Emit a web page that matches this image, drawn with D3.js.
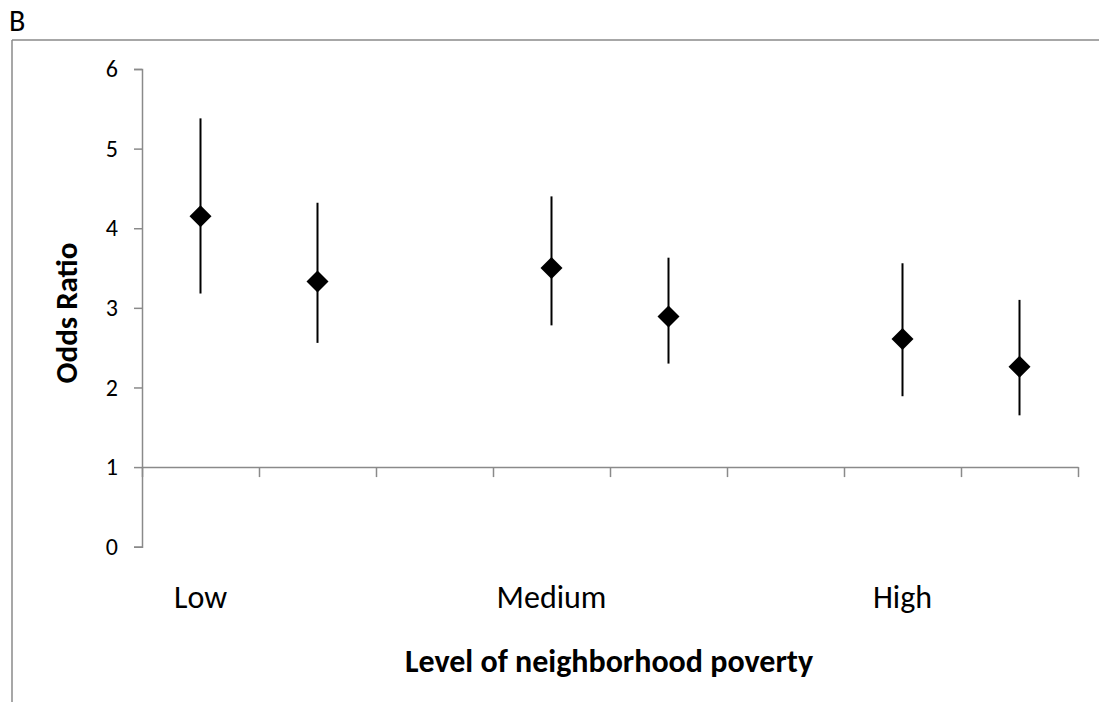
<!DOCTYPE html>
<html>
<head>
<meta charset="utf-8">
<script src="https://cdn.jsdelivr.net/npm/d3@7"></script>
<style>
  html, body { margin: 0; padding: 0; background: #ffffff; }
  svg { display: block; font-family: Carlito, Calibri, Lato, sans-serif; }
</style>
</head>
<body>
<svg id="chart" width="1099" height="702"></svg>
<script>
// Category slots along the x axis (two estimates per poverty level, one empty spacer)
const categories = ["Low", "", "", "Medium", "", "", "High", ""];
// Slot index of each estimate
const pointSlots = [0, 1, 3, 4, 6, 7];
// Odds ratios with 95% confidence bounds
const oddsRatio = [4.15, 3.33, 3.50, 2.89, 2.61, 2.26];
const ciLower   = [3.18, 2.56, 2.78, 2.30, 1.89, 1.65];
const ciUpper   = [5.38, 4.32, 4.40, 3.63, 3.56, 3.10];
const yTicks = [0, 1, 2, 3, 4, 5, 6];

const svg = d3.select("#chart");
const axisColor = "#8a8a8a";

// Panel frame (left and top rules) and panel letter
svg.append("line").attr("x1", 12).attr("x2", 12).attr("y1", 40).attr("y2", 702)
  .attr("stroke", axisColor).attr("stroke-width", 1.5);
svg.append("line").attr("x1", 12).attr("x2", 1099).attr("y1", 40).attr("y2", 40)
  .attr("stroke", axisColor).attr("stroke-width", 1.5);
svg.append("text").attr("x", 9).attr("y", 31).attr("font-size", 30).text("B");

const plotLeft = 142, plotRight = 1078, plotTop = 69, plotBottom = 546.7;

const y = d3.scaleLinear().domain([0, 6]).range([plotBottom, plotTop]);
const x = d3.scaleBand().domain(d3.range(categories.length)).range([plotLeft, plotRight]).padding(0);
const xEdges = d3.scaleLinear().domain([0, categories.length]).range([plotLeft, plotRight]);

// Y axis
const yAxis = svg.append("g")
  .attr("transform", `translate(${plotLeft},0)`)
  .call(d3.axisLeft(y).tickValues(yTicks).tickFormat(d3.format("d"))
    .tickSize(8).tickSizeOuter(8).tickPadding(16));
yAxis.select(".domain").attr("stroke", axisColor).attr("stroke-width", 1.5);
yAxis.selectAll(".tick line").attr("stroke", axisColor).attr("stroke-width", 1.5);
yAxis.selectAll(".tick text").attr("font-size", 24).attr("fill", "#000")
  .attr("font-family", "Carlito, Calibri, Lato, sans-serif");

// X axis crossing at 1, ticks on category boundaries
const xAxis = svg.append("g")
  .attr("transform", `translate(0,${y(1)})`)
  .call(d3.axisBottom(xEdges).tickValues(d3.range(categories.length + 1))
    .tickFormat("").tickSize(10).tickSizeOuter(0));
xAxis.select(".domain").attr("stroke", axisColor).attr("stroke-width", 1.5);
xAxis.selectAll(".tick line").attr("stroke", axisColor).attr("stroke-width", 1.5);

// Category labels below the plot
svg.append("g").selectAll("text")
  .data(categories.map((c, i) => ({ c, i })).filter(d => d.c !== ""))
  .join("text")
  .attr("x", d => x(d.i) + x.bandwidth() / 2)
  .attr("y", 608)
  .attr("text-anchor", "middle")
  .attr("font-size", 32)
  .text(d => d.c);

// Confidence interval whiskers
const pts = pointSlots.map((s, i) => ({ s, or: oddsRatio[i], lo: ciLower[i], hi: ciUpper[i] }));
svg.append("g").selectAll("line")
  .data(pts)
  .join("line")
  .attr("x1", d => x(d.s) + x.bandwidth() / 2)
  .attr("x2", d => x(d.s) + x.bandwidth() / 2)
  .attr("y1", d => y(d.lo))
  .attr("y2", d => y(d.hi))
  .attr("stroke", "#000")
  .attr("stroke-width", 2);

// Diamond markers
const diamond = d3.symbol().type(d3.symbolSquare).size(242);
svg.append("g").selectAll("path")
  .data(pts)
  .join("path")
  .attr("d", diamond)
  .attr("transform", d => `translate(${x(d.s) + x.bandwidth() / 2},${y(d.or)}) rotate(45)`)
  .attr("fill", "#000");

// Axis titles
svg.append("text")
  .attr("transform", `translate(77,313) rotate(-90)`)
  .attr("text-anchor", "middle")
  .attr("font-size", 31)
  .attr("font-weight", "bold")
  .text("Odds Ratio");

svg.append("text")
  .attr("x", 609)
  .attr("y", 672)
  .attr("text-anchor", "middle")
  .attr("font-size", 32)
  .attr("font-weight", "bold")
  .text("Level of neighborhood poverty");
</script>
</body>
</html>
